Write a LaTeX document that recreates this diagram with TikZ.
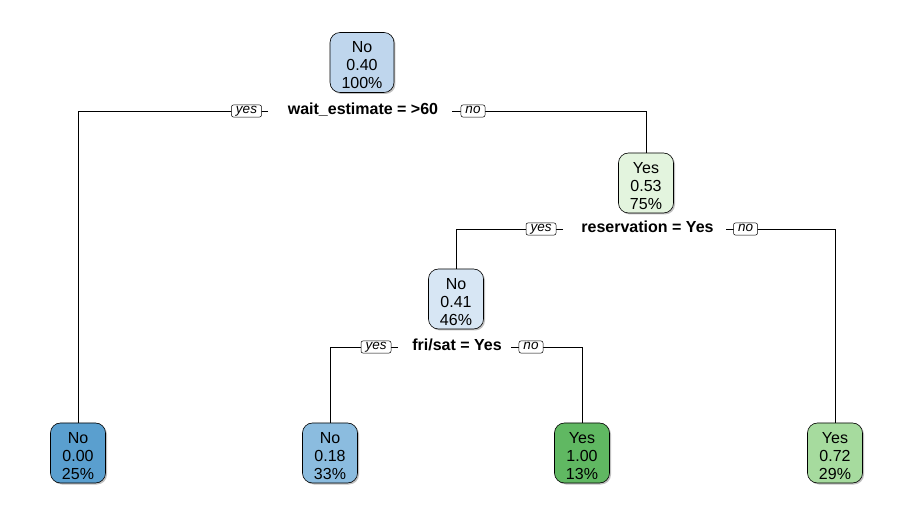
\documentclass[tikz,border=0pt]{standalone}
\usepackage{fontspec}
\setmainfont{Liberation Sans}
\usetikzlibrary{shadows}
\definecolor{cRoot}{HTML}{BFD6ED}
\definecolor{cNthree}{HTML}{D7E6F4}
\definecolor{cNtwo}{HTML}{E3F4DE}
\definecolor{cLa}{HTML}{5A9FCF}
\definecolor{cLb}{HTML}{8BBCDF}
\definecolor{cLc}{HTML}{60B862}
\definecolor{cLd}{HTML}{A6DB9E}
\newcommand{\topstrut}{\rule{0pt}{16.5pt}}
\begin{document}
\begin{tikzpicture}[x=1pt,y=-1pt,
  treebox/.style={draw=black, line width=0.6pt, rounded corners=10pt, align=center,
    font=\fontsize{16}{18}\selectfont, inner xsep=11.5pt, inner ysep=3pt,
    minimum height=60pt,
    drop shadow={shadow xshift=1.5pt, shadow yshift=-1.5pt, fill=black!30, opacity=0.8}},
  splitlabel/.style={font=\fontsize{16}{18}\selectfont\bfseries, inner sep=0pt,
    text height=11.5pt, text depth=3.5pt},
  yn/.style={draw=black, line width=0.5pt, rounded corners=2pt, fill=white,
    font=\fontsize{13.5}{13.5}\selectfont\itshape, inner xsep=4.5pt, inner ysep=1.2pt,
    text height=7pt, text depth=2.7pt},
  edge/.style={draw=black, line width=0.6pt}
]
\useasboundingbox[fill=white] (0,0) rectangle (913,518);

% nodes
\node[treebox, fill=cRoot]   (n1) at (362,62.5) {\topstrut No\\0.40\\100\%};
\node[treebox, fill=cNtwo]   (n2) at (646,183)  {\topstrut Yes\\0.53\\75\%};
\node[treebox, fill=cNthree] (n3) at (456,299)  {\topstrut No\\0.41\\46\%};
\node[treebox, fill=cLa] (l1) at (78,453)  {\topstrut No\\0.00\\25\%};
\node[treebox, fill=cLb] (l2) at (330,453) {\topstrut No\\0.18\\33\%};
\node[treebox, fill=cLc] (l3) at (582,453) {\topstrut Yes\\1.00\\13\%};
\node[treebox, fill=cLd] (l4) at (835,453) {\topstrut Yes\\0.72\\29\%};

% split labels
\node[splitlabel] (s1) at (363,111) {wait\_estimate = >60};
\node[splitlabel] (s2) at (647.5,229) {reservation = Yes};
\node[splitlabel] (s3) at (457,347) {fri/sat = Yes};

% connectors (drawn before yes/no boxes)
\coordinate (t1a) at (268,111);
\coordinate (t1b) at (452,111);
\coordinate (t2a) at (563,229);
\coordinate (t2b) at (726,229);
\coordinate (t3a) at (398,347);
\coordinate (t3b) at (511,347);

\path[edge] (t1a) -| (l1.north);
\path[edge] (t1b) -| (n2.north);
\path[edge] (t2a) -| (n3.north);
\path[edge] (t2b) -| (l4.north);
\path[edge] (t3a) -| (l2.north);
\path[edge] (t3b) -| (l3.north);

% yes / no boxes
\node[yn] (y1) at (246.5,111) {yes};
\node[yn] (no1) at (473,111) {no};
\node[yn] (y2) at (541,229) {yes};
\node[yn] (no2) at (745.5,229) {no};
\node[yn] (y3) at (376,347) {yes};
\node[yn] (no3) at (531,347) {no};
\end{tikzpicture}
\end{document}
